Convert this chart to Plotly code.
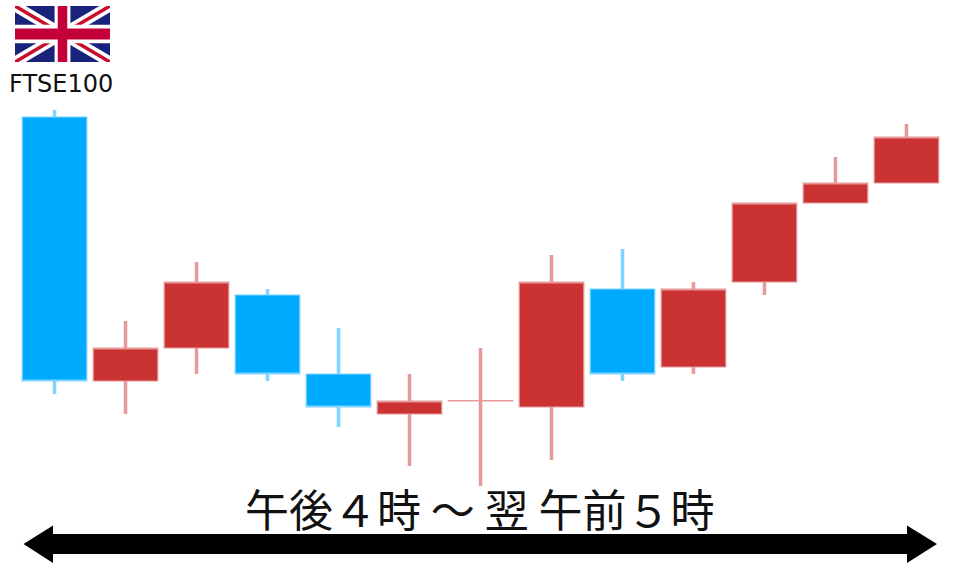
import base64
import plotly.graph_objects as go

# Values (height above the chart's bottom edge)
sessions = list(range(13))
opens  = [450, 186, 219, 272, 193, 153, 166, 160, 278, 200, 285, 364, 384]
closes = [186, 219, 285, 193, 160, 166, 166.5, 285, 193, 278, 364, 384, 430]
highs  = [457, 246, 305, 278, 239, 193, 219, 312, 318, 285, 364, 410, 443]
lows   = [173, 153, 193, 186, 140, 101, 81, 107, 186, 193, 272, 364, 384]

RED, BLUE = "#cb3333", "#00aaff"
RED_SOFT, BLUE_SOFT = "#e69a9a", "#80d4ff"

soft = [RED_SOFT if c >= o else BLUE_SOFT for o, c in zip(opens, closes)]
spans = [h - l for h, l in zip(highs, lows)]

fig = go.Figure()
# wicks (thin bars sit below the candle bodies)
fig.add_trace(go.Bar(
    x=sessions, y=spans, base=lows, width=0.05, hoverinfo="skip",
    marker=dict(color=soft, line=dict(width=0)),
))
fig.add_trace(go.Candlestick(
    x=sessions, open=opens, close=closes, high=highs, low=lows,
    whiskerwidth=0, hoverinfo="skip",
    increasing=dict(line=dict(color=RED_SOFT, width=1.2), fillcolor=RED),
    decreasing=dict(line=dict(color=BLUE_SOFT, width=1.2), fillcolor=BLUE),
))

flag_svg = """<svg xmlns="http://www.w3.org/2000/svg" viewBox="0 0 60 30" preserveAspectRatio="none" width="95" height="56">
<rect width="60" height="30" fill="#1a237b"/>
<path d="M0,0 L60,30 M60,0 L0,30" stroke="#fff" stroke-width="6"/>
<path d="M0,0 L60,30 M60,0 L0,30" stroke="#c8102e" stroke-width="2"/>
<path d="M30,0 V30 M0,15 H60" stroke="#fff" stroke-width="10"/>
<path d="M30,0 V30 M0,15 H60" stroke="#c4003a" stroke-width="6"/>
</svg>"""
flag_uri = "data:image/svg+xml;base64," + base64.b64encode(flag_svg.encode()).decode()

W, H = 960, 567
def px(x): return x / W
def py(y): return 1 - y / H

arrow = [(23.5, 544), (53, 525.5), (53, 534), (907, 534), (907, 525.5), (937, 544),
         (907, 563), (907, 554), (53, 554), (53, 563)]
arrow_path = "M" + " L".join(f"{px(x):.5f},{py(y):.5f}" for x, y in arrow) + " Z"

fig.update_layout(
    width=W, height=H, autosize=False,
    margin=dict(l=0, r=0, t=0, b=0),
    paper_bgcolor="white", plot_bgcolor="white",
    showlegend=False,
    boxgap=0.09, boxgroupgap=0,
    xaxis=dict(range=[-0.768, 12.754], visible=False, rangeslider=dict(visible=False), fixedrange=True),
    yaxis=dict(range=[0, 567], visible=False, fixedrange=True),
    shapes=[dict(type="path", xref="paper", yref="paper", path=arrow_path,
                 fillcolor="black", line=dict(width=0))],
    images=[dict(source=flag_uri, xref="paper", yref="paper", x=px(15), y=py(6),
                 sizex=95 / W, sizey=56 / H, sizing="stretch", xanchor="left", yanchor="top")],
    annotations=[
        dict(text="FTSE100", xref="paper", yref="paper", x=px(61), y=py(84), showarrow=False,
             xanchor="center", yanchor="middle",
             font=dict(family="DejaVu Sans", size=24, color="#111")),
        dict(text="午後４時 ～ 翌 午前５時", xref="paper", yref="paper", x=px(480), y=py(508), showarrow=False,
             xanchor="center", yanchor="middle",
             font=dict(family="Noto Sans CJK JP", size=44, color="#111")),
    ],
)
fig.write_html("out.html", config=dict(displayModeBar=False),
               post_script="document.body.style.margin='0';document.documentElement.style.overflow='hidden';")
